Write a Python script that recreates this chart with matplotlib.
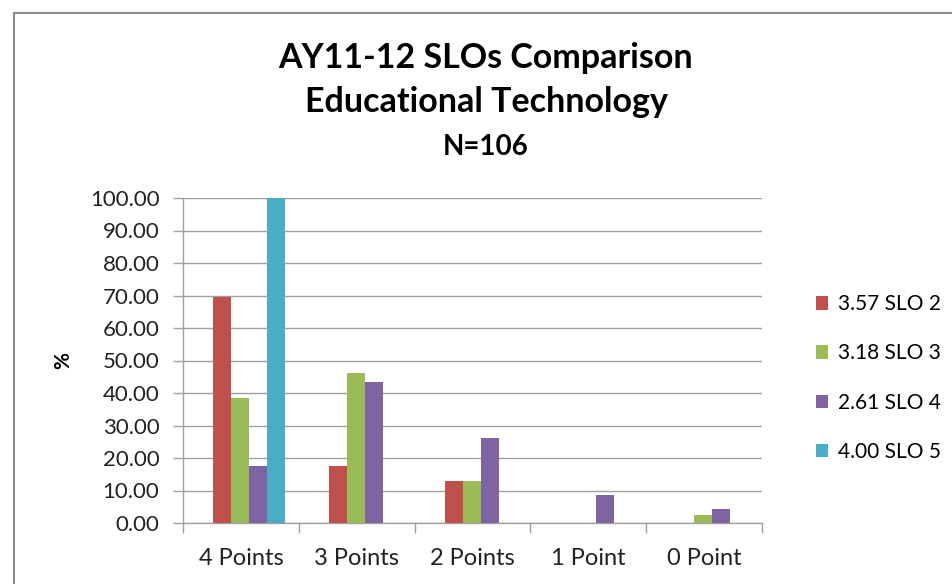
import numpy as np
import matplotlib.pyplot as plt
from matplotlib.patches import Rectangle

categories = ["4 Points", "3 Points", "2 Points", "1 Point", "0 Point"]
series_names = ["3.57 SLO 2", "3.18 SLO 3", "2.61 SLO 4", "4.00 SLO 5"]
slo2 = [69.6, 17.4, 13.0, 0.0, 0.0]
slo3 = [38.5, 46.2, 12.8, 0.0, 2.6]
slo4 = [17.4, 43.5, 26.1, 8.7, 4.3]
slo5 = [100.0, 0.0, 0.0, 0.0, 0.0]
colors = ["#C0504D", "#9BBB59", "#8064A2", "#4BACC6"]

plt.rcParams['font.family'] = ['Lato', 'DejaVu Sans']

fig = plt.figure(figsize=(9.52, 5.84), dpi=100)
ax = fig.add_axes([183 / 952, 1 - 523 / 584, 579 / 952, 325 / 584])

# chart frame (cropped on the right and bottom)
fig.patches.append(Rectangle((14 / 952, -0.1), 1.2, 1 - 13 / 584 + 0.1,
                             transform=fig.transFigure, fill=False,
                             edgecolor="#8c8c8c", linewidth=1.5))

x = np.arange(len(categories))
w = 0.155
for j, (vals, name) in enumerate(zip([slo2, slo3, slo4, slo5], series_names)):
    ax.bar(x + (j - 1.5) * w + 0.07, vals, width=w, color=colors[j],
           label=name, zorder=3)

ax.set_xlim(-0.5, len(categories) - 0.5)
ax.set_ylim(0, 100)
ax.set_yticks(np.arange(0, 101, 10))
ax.set_yticklabels([f"{v:.2f}" for v in np.arange(0, 101, 10)], fontsize=16,
                   color="#222222")
ax.set_xticks(x)
ax.set_xticklabels(categories, fontsize=17, color="#222222")
ax.set_xticks(np.arange(-0.5, len(categories), 1), minor=True)
ax.tick_params(axis="x", which="major", length=0, pad=18)
ax.tick_params(axis="x", which="minor", length=7, color="#a0a0a0", width=1)
ax.tick_params(axis="y", length=7, color="#a0a0a0", width=1, pad=10)

ax.grid(axis="y", color="#a0a0a0", linewidth=1, zorder=0)
for s in ["top", "right"]:
    ax.spines[s].set_visible(False)
for s in ["left", "bottom"]:
    ax.spines[s].set_color("#a0a0a0")
    ax.spines[s].set_linewidth(1)

ax.set_ylabel("%", fontsize=15, fontweight="bold", labelpad=12)

fig.text(486 / 952, 1 - 58 / 584, "AY11-12 SLOs Comparison", ha="center",
         va="center", fontsize=24.5, fontweight="bold")
fig.text(486 / 952, 1 - 102 / 584, "Educational Technology", ha="center",
         va="center", fontsize=24.5, fontweight="bold")
fig.text(486 / 952, 1 - 147 / 584, "N=106", ha="center", va="center",
         fontsize=20, fontweight="bold")

ax.legend(loc="center left", bbox_to_anchor=(797 / 952, 1 - 378 / 584),
          bbox_transform=fig.transFigure, frameon=False, fontsize=15,
          handlelength=0.6, handleheight=0.6, handletextpad=0.45,
          labelspacing=1.4)

fig.savefig("out.png", dpi=100, facecolor="white")
